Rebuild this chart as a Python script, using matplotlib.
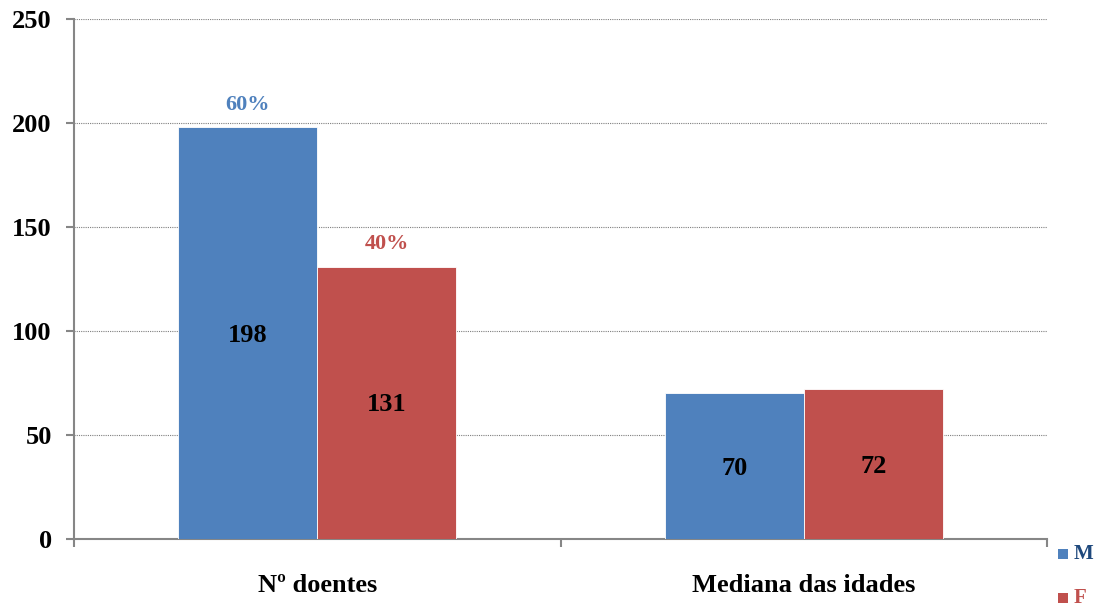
import numpy as np
import matplotlib.pyplot as plt

categories = ["Nº doentes", "Mediana das idades"]
series_names = ["M", "F"]
values_m = [198, 70]
values_f = [131, 72]
percent_labels = ["60%", "40%"]  # share of patients, first group only

blue = "#4F81BD"
red = "#C0504D"

plt.rcParams["font.family"] = ["Liberation Serif", "DejaVu Serif"]
plt.rcParams["font.weight"] = "bold"

fig = plt.figure(figsize=(11.02, 6.08), dpi=100)
ax = fig.add_axes([0.0672, 0.1135, 0.8830, 0.8553])

x = np.arange(len(categories))
width = 0.286

bars_m = ax.bar(x - width / 2, values_m, width, color=blue, edgecolor="white", linewidth=0.6, zorder=3)
bars_f = ax.bar(x + width / 2, values_f, width, color=red, edgecolor="white", linewidth=0.6, zorder=3)

ax.set_xlim(-0.5, len(categories) - 0.5)
ax.set_ylim(0, 250)
ax.set_yticks(np.arange(0, 251, 50))

# dotted horizontal gridlines
ax.yaxis.grid(True, linestyle=(0, (1, 1)), color="#7f7f7f", linewidth=0.8, zorder=0)
ax.set_axisbelow(True)

for s in ["top", "right"]:
    ax.spines[s].set_visible(False)
for s in ["left", "bottom"]:
    ax.spines[s].set_color("#868686")
    ax.spines[s].set_linewidth(1.5)

ax.tick_params(axis="y", length=6, width=1.5, color="#868686", labelsize=19, pad=10)
# category ticks sit on the boundaries between groups
ax.set_xticks(np.arange(-0.5, len(categories), 1.0))
ax.set_xticklabels([])
ax.tick_params(axis="x", length=6, width=1.5, color="#868686")
ax.set_xticks(x, minor=True)
ax.set_xticklabels(categories, minor=True, fontsize=19, fontweight="bold")
ax.tick_params(axis="x", which="minor", length=0, pad=25)

for lab in ax.get_yticklabels():
    lab.set_fontweight("bold")

# values inside the bars
for bars in (bars_m, bars_f):
    for b in bars:
        h = b.get_height()
        ax.text(b.get_x() + b.get_width() / 2, h / 2 - 1, f"{h:g}", ha="center", va="center",
                fontsize=19, fontweight="bold", color="black", zorder=4)

# percentages above the first group
for b, lab, col in zip((bars_m[0], bars_f[0]), percent_labels, (blue, red)):
    ax.text(b.get_x() + b.get_width() / 2, b.get_height() + 6, lab, ha="center", va="bottom",
            fontsize=16, fontweight="bold", color=col)

# legend drawn at lower right, outside the plot area
legend_items = [("M", blue, "#1F497D", 0.088), ("F", red, red, 0.016)]
for name, face, txt, yy in legend_items:
    fig.patches.append(plt.Rectangle((0.9605, yy - 0.007), 0.0085, 0.0155, transform=fig.transFigure,
                                     facecolor=face, edgecolor="none"))
    fig.text(0.9745, yy, name, color=txt, fontsize=15, fontweight="bold", va="center", ha="left")

fig.savefig("out.png", dpi=100, facecolor="white")
